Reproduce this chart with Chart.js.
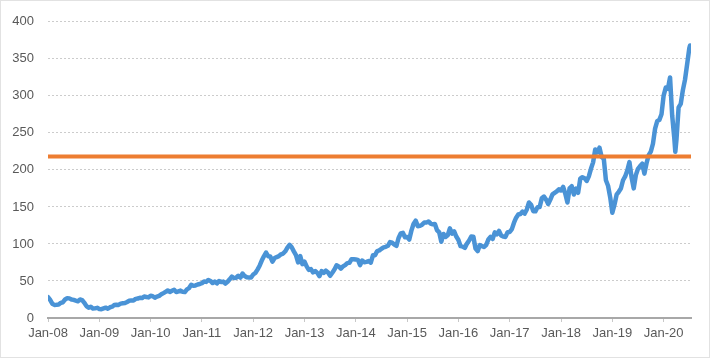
<!DOCTYPE html>
<html><head><meta charset="utf-8">
<script src="https://cdn.jsdelivr.net/npm/chart.js@4"></script>
<style>html,body{margin:0;padding:0;background:#fff}canvas{display:block}</style>
</head><body>
<canvas id="c" width="710" height="358"></canvas>
<script>
// Tick labels for the date axis (one per January)
const tickLabels = ['Jan-08','Jan-09','Jan-10','Jan-11','Jan-12','Jan-13','Jan-14','Jan-15','Jan-16','Jan-17','Jan-18','Jan-19','Jan-20'];

// Semi-monthly readings (1st and mid-month) per year
const p2008 = [28.3, 24.4, 19.3, 17.7, 17.8, 18.2, 20.5, 21.3, 25.0, 26.8, 26.5, 25.0, 24.5, 23.5, 22.6, 25.0, 24.2, 20.5, 16.0, 14.0, 15.2, 12.8, 13.0, 13.7];
const p2009 = [12.2, 11.9, 13.0, 14.0, 12.6, 14.5, 15.3, 17.5, 18.0, 17.7, 19.4, 19.9, 20.3, 21.7, 23.3, 23.8, 23.6, 25.8, 26.2, 27.4, 26.9, 29.0, 28.4, 27.8];
const p2010 = [30.0, 29.4, 27.4, 28.9, 29.9, 32.0, 33.6, 35.4, 37.2, 35.2, 36.8, 38.2, 35.0, 36.0, 37.0, 35.3, 35.0, 38.7, 40.4, 44.8, 43.5, 44.0, 45.2, 45.9];
const p2011 = [47.0, 49.4, 48.7, 51.4, 50.0, 47.2, 49.2, 46.7, 50.0, 48.5, 49.2, 46.5, 48.9, 52.3, 56.0, 54.0, 54.4, 57.0, 54.5, 60.0, 56.6, 55.0, 54.8, 54.6];
const p2012 = [58.7, 60.8, 65.3, 70.6, 77.5, 83.3, 88.4, 83.4, 83.0, 76.0, 81.0, 82.3, 83.5, 86.0, 87.0, 90.1, 95.0, 98.8, 95.5, 90.0, 85.0, 75.0, 83.6, 72.7];
const p2013 = [76.0, 69.7, 65.0, 66.0, 61.5, 63.5, 61.0, 56.5, 63.3, 61.0, 64.0, 61.5, 57.0, 61.1, 65.5, 71.1, 69.6, 66.8, 69.6, 71.4, 74.1, 74.5, 79.5, 79.4];
const p2014 = [79.0, 78.5, 71.5, 77.6, 75.3, 75.8, 77.0, 74.8, 84.7, 84.9, 90.4, 91.3, 93.5, 95.3, 96.1, 97.5, 102.5, 101.6, 99.2, 97.5, 108.0, 114.2, 115.0, 109.0];
const p2015 = [109.3, 106.0, 118.0, 127.0, 131.5, 124.0, 124.4, 126.0, 128.8, 128.8, 130.3, 127.6, 126.6, 126.8, 118.4, 115.9, 103.0, 113.5, 109.6, 111.8, 121.0, 114.0, 117.0, 110.0];
const p2016 = [105.3, 97.0, 96.4, 94.7, 100.5, 104.6, 109.9, 109.7, 93.7, 90.3, 98.5, 97.1, 95.9, 98.8, 106.0, 109.5, 106.7, 115.6, 113.0, 117.5, 111.5, 109.9, 109.5, 115.8];
const p2017 = [116.2, 120.0, 128.7, 135.5, 139.8, 140.5, 143.7, 141.0, 146.6, 156.0, 153.0, 144.3, 144.0, 149.5, 150.0, 161.6, 164.0, 159.9, 154.0, 159.9, 166.9, 169.0, 171.0, 173.9];
const p2018 = [172.3, 177.0, 167.8, 156.0, 175.0, 178.0, 166.7, 174.7, 169.1, 188.2, 190.2, 188.8, 185.1, 191.3, 201.5, 210.2, 227.6, 223.8, 230.0, 217.4, 215.0, 186.0, 178.6, 163.0];
const p2019 = [142.2, 153.0, 166.5, 170.4, 174.9, 186.0, 191.2, 199.2, 210.5, 190.0, 175.0, 192.9, 201.5, 205.2, 208.4, 195.0, 209.0, 219.9, 224.6, 235.3, 255.8, 265.8, 267.6, 275.2];
const p2020 = [300.4, 311.3, 309.5, 324.9, 273.4, 242.2, 240.9, 284.4, 289.1, 307.7, 321.9, 342.9, 364.1];
// Extra readings between the semi-monthly ones: [months since Jan-08, value]
const extraPoints = [[146.73, 224.4], [150.17, 368.0]];

// Horizontal reference level
const thresholdValue = 218;

const yearSeries = [p2008, p2009, p2010, p2011, p2012, p2013, p2014, p2015, p2016, p2017, p2018, p2019, p2020];
const linePoints = [];
yearSeries.forEach((arr, yi) => arr.forEach((v, i) => linePoints.push({ x: yi * 12 + i * 0.5, y: v })));
extraPoints.forEach(([x, y]) => linePoints.push({ x, y }));
linePoints.sort((a, b) => a.x - b.x);

const xMax = 150.4;
const tickPositions = tickLabels.map((_, i) => i * 12);

const framePlugin = {
  id: 'frame',
  afterDraw(chart) {
    const ctx = chart.ctx;
    ctx.save();
    ctx.strokeStyle = '#c4c4c4';
    ctx.setLineDash([1, 1]);
    ctx.lineWidth = 1;
    ctx.strokeRect(0.5, 0.5, 709, 357);
    ctx.restore();
  }
};

const font = { family: 'Liberation Sans', size: 13 };

new Chart(document.getElementById('c'), {
  type: 'line',
  data: {
    datasets: [
      { label: 'Level', data: [{ x: 0, y: thresholdValue }, { x: xMax, y: thresholdValue }],
        borderColor: '#ED7D31', borderWidth: 4, pointRadius: 0, tension: 0 },
      { label: 'Price', data: linePoints, borderColor: '#4a93d6', borderWidth: 4.5,
        pointRadius: 0, tension: 0, borderJoinStyle: 'round', borderCapStyle: 'round' }
    ]
  },
  options: {
    responsive: false,
    animation: false,
    devicePixelRatio: 1,
    layout: { padding: { left: 0, top: 18, right: 19, bottom: 0 } },
    plugins: { legend: { display: false }, tooltip: { enabled: false } },
    scales: {
      x: {
        type: 'linear', min: 0, max: xMax,
        afterFit(s) { s.height = 40; },
        afterBuildTicks(s) { s.ticks = tickPositions.map(v => ({ value: v })); },
        ticks: { autoSkip: false, maxRotation: 0, padding: 4, color: '#595959', font,
          callback: (v, i) => tickLabels[i] },
        grid: { drawOnChartArea: false, tickLength: 4, tickColor: '#c8c8c8' },
        border: { color: '#a8a8a8', width: 2 }
      },
      y: {
        min: 0, max: 400,
        afterFit(s) { s.width = 48; },
        ticks: { stepSize: 50, padding: 14, color: '#595959', font },
        grid: { color: '#cccccc', drawTicks: false },
        border: { display: false, dash: [2, 2] }
      }
    }
  },
  plugins: [framePlugin]
});
</script>
</body></html>
